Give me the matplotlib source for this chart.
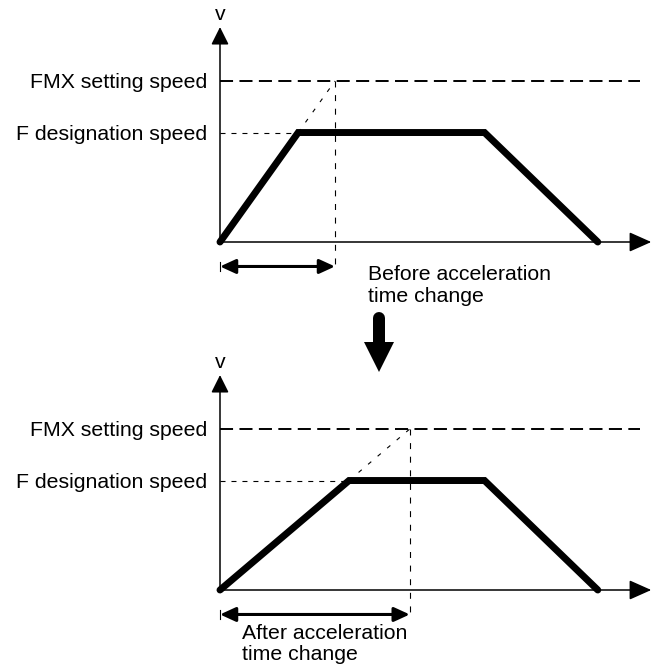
import matplotlib
matplotlib.use("Agg")
import matplotlib.pyplot as plt
from matplotlib.patches import FancyArrow

plt.rcParams['font.family'] = ['Liberation Sans', 'DejaVu Sans']
plt.rcParams['lines.scale_dashes'] = False

# speeds (FMX setting speed = 1)
fmx_speed = 1.0
f_speed = 0.68
speed_axis_end = 1.335

# times (same units for both diagrams)
accel_times = [2.0, 3.3]          # time to reach FMX: before / after change
decel_start = 4.6
stop_time = 6.57
time_axis_end = 7.5
fmx_line_end = 7.3

captions = [["Before acceleration", "time change"],
            ["After acceleration", "time change"]]
caption_x = [2.57, 0.38]
caption_y = [[-0.236, -0.373], [-0.304, -0.435]]

FS = 15.3
PX = 0.72  # points per pixel at dpi 100

fig = plt.figure(figsize=(6.56, 6.66), dpi=100)

# overlay for the big arrow between the two diagrams (pixel coords)
ov = fig.add_axes([0, 0, 1, 1])
ov.set_xlim(0, 656)
ov.set_ylim(666, 0)
ov.axis('off')
ov.add_patch(FancyArrow(379, 318, 0, 54, width=12, head_width=30, head_length=30,
                        length_includes_head=True, color='black', lw=0))
ov.plot([379, 379], [318, 330], color='black', lw=12 * PX, solid_capstyle='round')

# axes rectangles and limits (57.5 px per time unit, 161 px per speed unit)
axes_rects = [[0, 0.5, 1, 0.5], [0, 0, 1, 0.5]]
origin_px = [242, 590]
half_top_px = [0, 333]

for i, acc in enumerate(accel_times):
    ax = fig.add_axes(axes_rects[i])
    ax.patch.set_alpha(0)
    ax.axis('off')
    ax.set_xlim(-220 / 57.5, (656 - 220) / 57.5)
    ax.set_ylim(-(half_top_px[i] + 333 - origin_px[i]) / 161,
                (origin_px[i] - half_top_px[i]) / 161)

    peak_t = acc * f_speed / fmx_speed

    # reference lines
    ax.plot([0, fmx_line_end], [fmx_speed, fmx_speed], color='black',
            lw=1.4, dashes=(9.4, 4.6))
    ax.plot([0, peak_t], [f_speed, f_speed], color='black', lw=0.8, dashes=(3.6, 4.3))
    ax.plot([peak_t, acc], [f_speed, fmx_speed], color='black', lw=0.8, dashes=(3, 6))
    ax.plot([acc, acc], [fmx_speed, -0.17], color='black', lw=0.8, dashes=(4.3, 5.5))

    # speed profile
    ax.plot([0, peak_t, decel_start, stop_time], [0, f_speed, f_speed, 0],
            color='black', lw=5, solid_joinstyle='miter', solid_capstyle='round',
            zorder=5)

    # axes with arrows
    ax.annotate('', xy=(0, speed_axis_end), xytext=(0, 0),
                arrowprops=dict(arrowstyle='-|>,head_length=10.8,head_width=5.4',
                                mutation_scale=1, shrinkA=0, shrinkB=0,
                                color='black', lw=1.1))
    ax.annotate('', xy=(time_axis_end, 0), xytext=(0, 0),
                arrowprops=dict(arrowstyle='-|>,head_length=13.7,head_width=6.1',
                                mutation_scale=1, shrinkA=0, shrinkB=0,
                                color='black', lw=1.1))
    ax.text(0, 1.41, 'v', ha='center', va='center', fontsize=FS)

    # acceleration time span
    span_y = -0.152
    ax.annotate('', xy=(acc, span_y), xytext=(0, span_y),
                arrowprops=dict(arrowstyle='<|-|>,head_length=9.4,head_width=4.3',
                                mutation_scale=1, shrinkA=0, shrinkB=0,
                                color='black', lw=2.2))
    ax.plot([0, 0], [span_y - 0.03, span_y + 0.03], color='black', lw=0.8)

    # labels
    ax.annotate('FMX setting speed', xy=(0, fmx_speed), xytext=(-13 * PX, -7 * PX),
                textcoords='offset points', ha='right', va='baseline', fontsize=FS)
    ax.annotate('F designation speed', xy=(0, f_speed), xytext=(-13 * PX, -7.5 * PX),
                textcoords='offset points', ha='right', va='baseline', fontsize=FS)

    for line, yy in zip(captions[i], caption_y[i]):
        ax.text(caption_x[i], yy, line, ha='left', va='baseline', fontsize=FS)

fig.savefig('out.png', dpi=100)
